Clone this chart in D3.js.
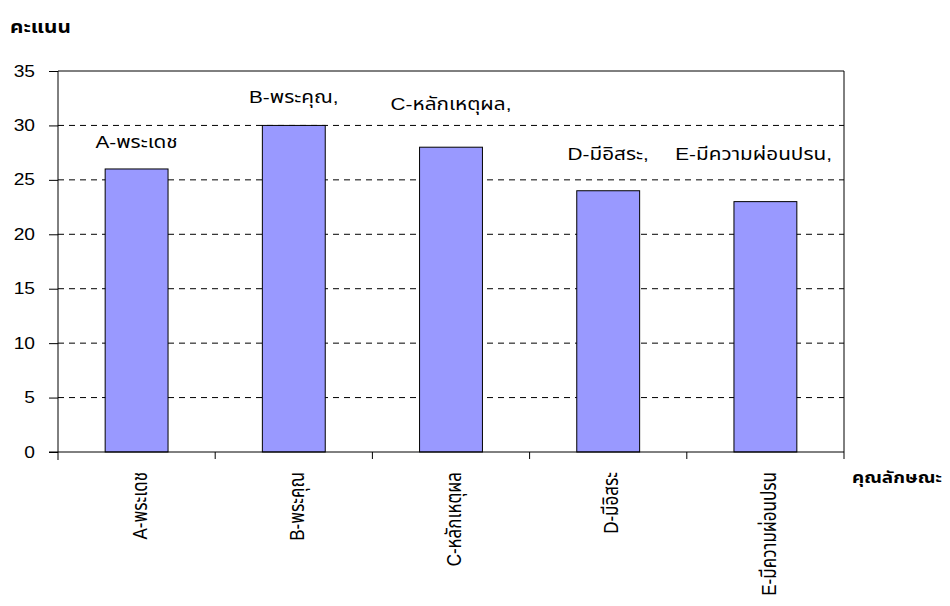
<!DOCTYPE html>
<html>
<head>
<meta charset="utf-8">
<script src="https://cdn.jsdelivr.net/npm/d3@7"></script>
<style>
  body { margin: 0; background: #fff; }
  text { font-family: Arial, 'Liberation Sans', 'Noto Sans Thai', 'DejaVu Sans', sans-serif; }
</style>
</head>
<body>
<svg id="chart" width="950" height="606"></svg>
<script>
// ข้อมูล
const categories = ['A-พระเดช', 'B-พระคุณ', 'C-หลักเหตุผล', 'D-มีอิสระ', 'E-มีความผ่อนปรน'];
const barLabels = ['A-พระเดช', 'B-พระคุณ,', 'C-หลักเหตุผล,', 'D-มีอิสระ,', 'E-มีความผ่อนปรน,'];
const scores = [26, 30, 28, 24, 23];
// ระดับของป้ายกำกับเหนือแท่ง (หน่วยเดียวกับคะแนน)
const labelLevels = [28.5, 32.6, 32.0, 27.4, 27.4];
const yTicks = [0, 5, 10, 15, 20, 25, 30, 35];

const stretch = 1.22; // ตัวอักษรในภาพต้นฉบับถูกยืดตามแนวนอน

const svg = d3.select('#chart');
const margin = { top: 71, right: 106, bottom: 154, left: 58 };
const width = 950 - margin.left - margin.right;
const height = 606 - margin.top - margin.bottom;

const g = svg.append('g')
  .attr('transform', `translate(${margin.left},${margin.top})`);

const x = d3.scaleBand()
  .domain(categories)
  .range([0, width]);

const y = d3.scaleLinear()
  .domain([0, 35])
  .range([height, 0]);

// เส้นตาราง
g.append('g')
  .selectAll('line')
  .data(yTicks.filter(d => d > 0 && d < 35))
  .join('line')
  .attr('x1', 0)
  .attr('x2', width)
  .attr('y1', d => y(d))
  .attr('y2', d => y(d))
  .attr('stroke', '#000')
  .attr('stroke-width', 1)
  .attr('stroke-dasharray', '6,5');

// กรอบบนและขวา
g.append('line')
  .attr('x1', 0).attr('x2', width)
  .attr('y1', 0).attr('y2', 0)
  .attr('stroke', '#000');
g.append('line')
  .attr('x1', width).attr('x2', width)
  .attr('y1', 0).attr('y2', height)
  .attr('stroke', '#000');

// แท่ง
const barW = x.bandwidth() * 0.4;
g.append('g')
  .selectAll('rect')
  .data(scores)
  .join('rect')
  .attr('x', (d, i) => x(categories[i]) + (x.bandwidth() - barW) / 2)
  .attr('y', d => y(d))
  .attr('width', barW)
  .attr('height', d => height - y(d))
  .attr('fill', '#9999ff')
  .attr('stroke', '#000')
  .attr('stroke-width', 1);

// ป้ายกำกับเหนือแท่ง
g.append('g')
  .selectAll('text')
  .data(barLabels)
  .join('text')
  .attr('text-anchor', 'middle')
  .attr('dy', '0.35em')
  .attr('font-size', 17)
  .attr('fill', '#000')
  .text(d => d)
  .each(function (d, i) {
    const w = this.getComputedTextLength() * stretch;
    let cx = x(categories[i]) + x.bandwidth() / 2;
    const maxRight = width - 12;
    if (cx + w / 2 > maxRight) cx = maxRight - w / 2;
    d3.select(this).attr('transform', `translate(${cx},${y(labelLevels[i])}) scale(${stretch},1)`);
  });

// แกน Y
const yAxis = g.append('g')
  .call(d3.axisLeft(y).tickValues(yTicks).tickSize(9).tickPadding(14).tickSizeOuter(0));
yAxis.select('.domain').attr('d', `M0,0V${height + 8}`);
yAxis.selectAll('.tick text')
  .attr('x', 0)
  .attr('transform', 'translate(-23,0) scale(1.2,1)')
  .attr('font-size', 16)
  .attr('fill', '#000')
  .attr('font-family', "Arial, 'Liberation Sans', sans-serif");

// แกน X
const xAxis = g.append('g')
  .attr('transform', `translate(0,${height})`)
  .call(d3.axisBottom(x).tickSize(0).tickSizeOuter(0).tickFormat(''));
xAxis.select('.domain').attr('d', `M-9,0H${width}`);
xAxis.selectAll('.tick').remove();

// ขีดแบ่งประเภท
g.append('g')
  .selectAll('line')
  .data(categories)
  .join('line')
  .attr('x1', d => x(d) + x.bandwidth())
  .attr('x2', d => x(d) + x.bandwidth())
  .attr('y1', height)
  .attr('y2', height + 7)
  .attr('stroke', '#000');

// ชื่อประเภท (แนวตั้ง)
g.append('g')
  .selectAll('text')
  .data(categories)
  .join('text')
  .attr('transform', d => `translate(${x(d) + x.bandwidth() / 2 + 3},${height + 20}) scale(${stretch},1) rotate(-90)`)
  .attr('text-anchor', 'end')
  .attr('dy', '0.35em')
  .attr('font-size', 17)
  .attr('fill', '#000')
  .text(d => d);

// ชื่อแกน
svg.append('text')
  .attr('transform', `translate(10,33) scale(${stretch},1)`)
  .attr('font-size', 17)
  .attr('font-weight', 'bold')
  .text('คะแนน');

svg.append('text')
  .attr('transform', 'translate(852,483) scale(1.18,1)')
  .attr('font-size', 16)
  .attr('font-weight', 'bold')
  .text('คุณลักษณะ');
</script>
</body>
</html>
